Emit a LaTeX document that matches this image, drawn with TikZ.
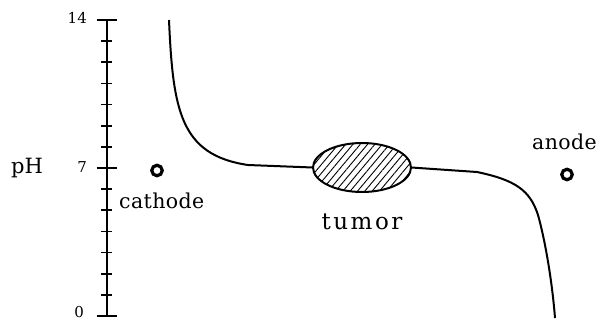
\documentclass[tikz,border=0pt]{standalone}
\usepackage{fontspec}
\setmainfont{DejaVu Serif}
\newfontfamily\lblfont[LetterSpace=2]{DejaVu Serif}
\newfontfamily\tumfont[LetterSpace=11]{DejaVu Serif}
\usetikzlibrary{shapes.geometric,patterns.meta}
\begin{document}
\begin{tikzpicture}[x=1pt,y=-1pt,
  axisline/.style={line width=2pt},
  tickline/.style={line width=1.6pt},
  curveline/.style={line width=2pt},
  numlabel/.style={anchor=east,inner sep=0pt,font=\fontsize{15}{15}\selectfont},
  wordlabel/.style={inner sep=0pt,font=\fontsize{20.5}{20.5}\lblfont},
  electrode/.style={circle,draw,line width=3.2pt,minimum size=10.5pt,inner sep=0pt},
  tumorshape/.style={ellipse,draw,line width=2pt,minimum width=98pt,minimum height=49pt,inner sep=0pt,
    pattern={Lines[angle=50,distance=5.6pt,line width=0.9pt]}}]
\useasboundingbox (0,0) rectangle (599,321);
% axis
\coordinate (axtop) at (107,20);
\coordinate (axbot) at (107,316);
\draw[axisline] (axtop) -- (axbot);
\foreach \i in {0,...,14}{
  \pgfmathsetmacro{\yy}{316-\i*296/14}
  \draw[tickline] (101,\yy) -- (112,\yy);
}
\foreach \i in {0,7,14}{
  \pgfmathsetmacro{\yy}{316-\i*296/14}
  \draw[tickline] (96.5,\yy) -- (117,\yy);
}
\node[numlabel] (n14) at (87,18) {14};
\node[numlabel] (n7) at (87,167) {7};
\node[numlabel] (n0) at (84,312.5) {0};
\node[inner sep=0pt,anchor=west,font=\fontsize{21}{21}\selectfont] (ph) at (11,168) {pH};
% electrodes
\node[electrode] (cat) at (157,170.5) {};
\node[wordlabel,anchor=west] (catl) at (119,201) {cathode};
\node[electrode] (an) at (567,174.5) {};
\node[wordlabel,anchor=west] (anl) at (532,142) {anode};
% tumor
\node[tumorshape] (tumor) at (362,167.5) {};
\node[inner sep=0pt,font=\fontsize{23}{23}\tumfont] (tuml) at (362,222) {tumor};
% curve
\coordinate (ctop) at (169,20);
\coordinate (cl) at (248,165);
\coordinate (cr) at (477,172);
\coordinate (cm) at (538,215);
\coordinate (cbot) at (555,318);
\draw[curveline] (ctop) .. controls (173,110) and (180,155) .. (cl) -- (tumor.west);
\draw[curveline] (tumor.east) -- (cr) .. controls (515,180) and (530,190) .. (cm)
  .. controls (545,240) and (552,280) .. (cbot);
\end{tikzpicture}
\end{document}
